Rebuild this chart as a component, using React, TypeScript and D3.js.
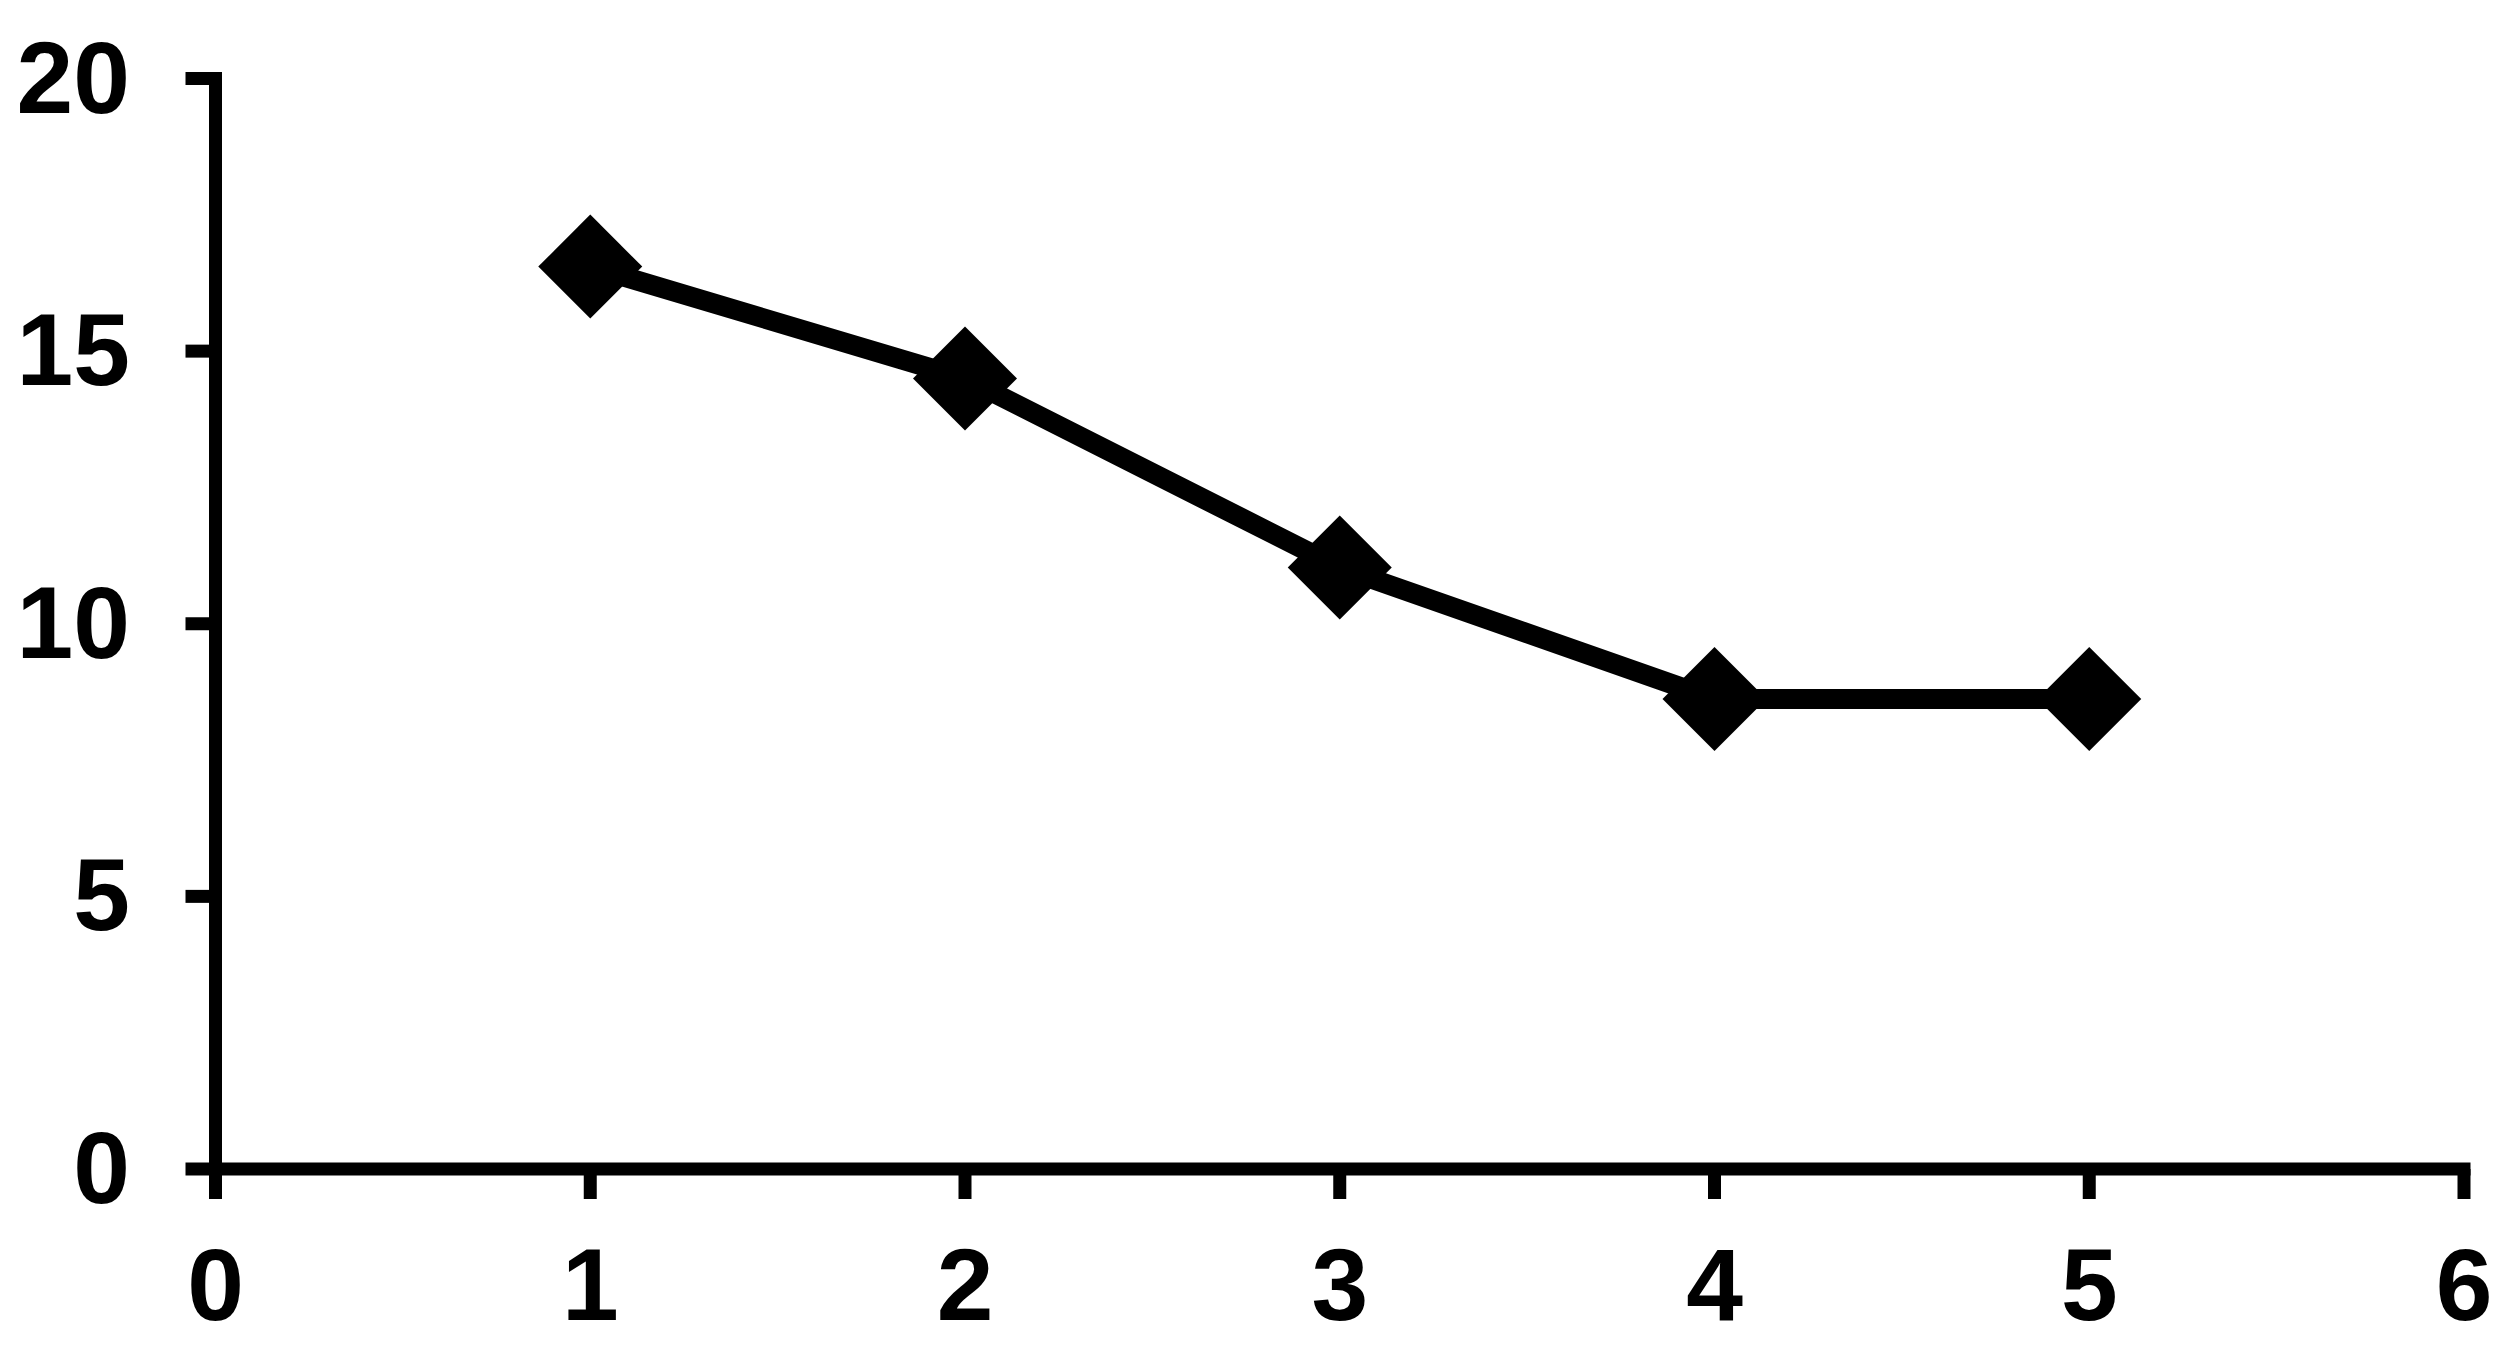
import React from "react";
import * as d3 from "d3";

// series
const xValues = [1, 2, 3, 4, 5];
const yValues = [16.55, 14.5, 11.03, 8.62, 8.62];
const xTicks = [0, 1, 2, 3, 4, 5, 6];
const yTicks = [0, 5, 10, 15, 20];

const W = 2513;
const H = 1352;

const x = d3.scaleLinear().domain([0, 6]).range([215.5, 2464]);
const y = d3.scaleLinear().domain([0, 20]).range([1169, 78.5]);

const textStyle: React.CSSProperties = {
  fontFamily: '"Liberation Sans", Arial, Helvetica, sans-serif',
  fontWeight: 700,
  fontSize: "102px",
};
const axisW = 13;
const tickLen = 30;

export default function App() {
  const pts = xValues.map((v, i) => [x(v), y(yValues[i])] as [number, number]);
  const line = d3.line()(pts) || "";
  const diamond = d3.symbol().type(d3.symbolSquare).size(5408)() || "";

  return (
    <svg
      width={W}
      height={H}
      style={{ position: "absolute", left: 0, top: 0, background: "#fff" }}
    >
      {/* axes */}
      <g stroke="#000" strokeWidth={axisW} strokeLinecap="square">
        <line x1={x(0)} x2={x(0)} y1={y(20)} y2={y(0)} />
        <line x1={x(0)} x2={x(6)} y1={y(0)} y2={y(0)} />
      </g>
      <g stroke="#000" strokeWidth={axisW}>
        {yTicks.map(t => (
          <line key={"yt" + t} x1={x(0) - tickLen} x2={x(0)} y1={y(t)} y2={y(t)} />
        ))}
        {xTicks.map(t => (
          <line key={"xt" + t} x1={x(t)} x2={x(t)} y1={y(0)} y2={y(0) + tickLen} />
        ))}
      </g>
      <g fill="#000">
        {yTicks.map(t => (
          <text key={"yl" + t} x={130} y={y(t) + 34} textAnchor="end" style={textStyle}>
            {t}
          </text>
        ))}
        {xTicks.map(t => (
          <text key={"xl" + t} x={x(t)} y={1320} textAnchor="middle" style={textStyle}>
            {t}
          </text>
        ))}
      </g>
      {/* data */}
      <path d={line} fill="none" stroke="#000" strokeWidth={20} strokeLinejoin="round" />
      {pts.map((p, i) => (
        <path
          key={"m" + i}
          d={diamond}
          transform={`translate(${p[0]},${p[1]}) rotate(45)`}
          fill="#000"
        />
      ))}
    </svg>
  );
}
